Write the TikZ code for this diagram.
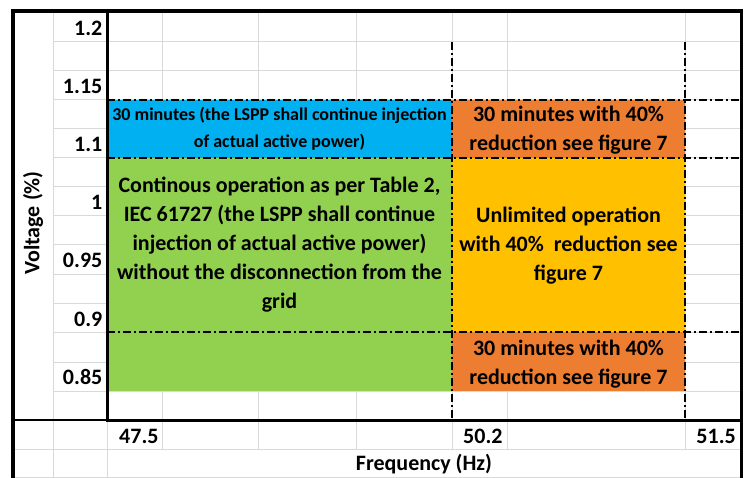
\documentclass[tikz,border=0pt]{standalone}
\usepackage{fontspec}
\setmainfont{Carlito}
\definecolor{cellblue}{HTML}{00B0F0}
\definecolor{cellgreen}{HTML}{92D050}
\definecolor{cellamber}{HTML}{FFC000}
\definecolor{cellorange}{HTML}{ED7D31}
\definecolor{gridgray}{HTML}{D9D9D9}
\begin{document}
\begin{tikzpicture}[x=1pt,y=-1pt,
  gridline/.style={draw=gridgray, line width=1pt},
  dashdot/.style={draw=black, line width=1.1pt, dash pattern=on 8pt off 3pt on 2pt off 3pt},
  frameline/.style={draw=black, line width=3.5pt},
  axisline/.style={draw=black, line width=3pt},
  ticklabel/.style={font=\fontsize{22}{26}\selectfont\bfseries, inner sep=0pt, anchor=base east},
  freqlabel/.style={font=\fontsize{22}{26}\selectfont\bfseries, inner sep=0pt},
  zonetext/.style={font=\fontsize{22}{29}\selectfont\bfseries, align=center, inner sep=0pt},
  smallzonetext/.style={font=\fontsize{18}{27}\selectfont\bfseries, align=center, inner sep=0pt},
]
\useasboundingbox (0,0) rectangle (749,478);
\fill[white] (0,0) rectangle (749,478);

% spreadsheet grid
\foreach \yy in {42,71,100,129,158,187,216,245,274,303,332,362,391}
  \draw[gridline] (53,\yy) -- (741,\yy);
\foreach \yy in {449,477}
  \draw[gridline] (13,\yy) -- (741,\yy);
\draw[gridline] (53,11) -- (53,478);
\foreach \xx in {162,258,356,452,507,685}
  \draw[gridline] (\xx,11) -- (\xx,449);
\draw[gridline] (107,420) -- (107,478);

% operating zones
\fill[cellblue]   (107,100) rectangle (452,158);
\fill[cellorange] (452,100) rectangle (685,158);
\fill[cellgreen]  (107,158) rectangle (452,391);
\fill[cellamber]  (452,158) rectangle (685,332);
\fill[cellorange] (452,332) rectangle (685,391);

% zone boundaries
\foreach \yy in {100,158,332}
  \draw[dashdot] (107,\yy) -- (741,\yy);
\foreach \xx in {452,685}
  \draw[dashdot] (\xx,42) -- (\xx,418);

% frame and axes
\draw[frameline] (13,480) -- (13,11) -- (741.5,11) -- (741.5,480);
\draw[axisline] (107,11) -- (107,420) -- (741,420);
\draw[black, line width=1.2pt] (13,420) -- (107,420);

% voltage axis
\node[ticklabel] (v120) at (102.5,36)  {1.2};
\node[ticklabel] (v115) at (102.5,94)  {1.15};
\node[ticklabel] (v110) at (102.5,152) {1.1};
\node[ticklabel] (v100) at (102.5,210) {1};
\node[ticklabel] (v095) at (102.5,268) {0.95};
\node[ticklabel] (v090) at (102.5,326) {0.9};
\node[ticklabel] (v085) at (102.5,384) {0.85};
\node[freqlabel, rotate=90] (vtitle) at (33,223) {Voltage (\%)};

% frequency axis
\node[freqlabel, anchor=base west] (f475) at (119,443) {47.5};
\node[freqlabel, anchor=base west] (f502) at (463,443) {50.2};
\node[freqlabel, anchor=base east] (f515) at (736,443) {51.5};
\node[freqlabel, anchor=base] (ftitle) at (424,470) {Frequency (Hz)};

% zone descriptions
\node[smallzonetext] (bluetxt) at (279.5,128.5)
  {30 minutes (the LSPP shall continue injection\\of actual active power)};
\node[zonetext] (ortoptxt) at (568.5,130)
  {30 minutes with 40\%\\reduction see figure 7};
\node[zonetext] (greentxt) at (279.5,245)
  {Continous operation as per Table 2,\\IEC 61727 (the LSPP shall continue\\injection of actual active power)\\without the disconnection from the\\grid};
\node[zonetext] (ambertxt) at (568.5,245.5)
  {Unlimited operation\\with 40\%\ \ reduction see\\figure 7};
\node[zonetext] (orbottxt) at (568.5,364)
  {30 minutes with 40\%\\reduction see figure 7};
\end{tikzpicture}
\end{document}
